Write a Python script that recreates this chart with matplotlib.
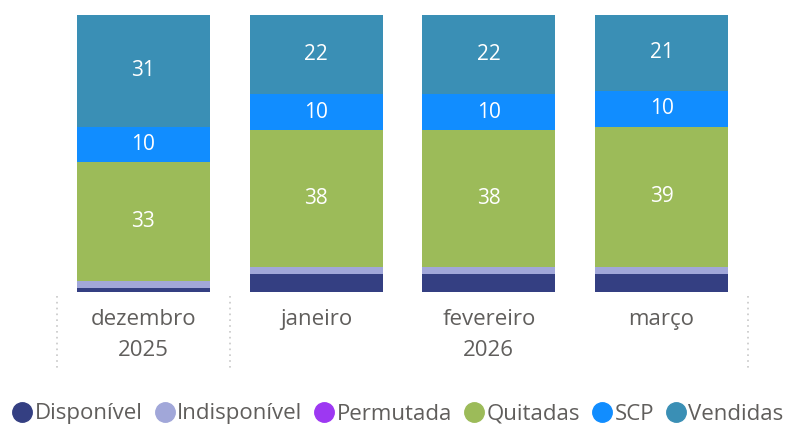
import matplotlib.pyplot as plt
import matplotlib.transforms as mtransforms
from matplotlib.lines import Line2D
import numpy as np

plt.rcParams['font.family'] = ['Open Sans', 'DejaVu Sans']

# data
months = ["dezembro", "janeiro", "fevereiro", "março"]
years = ["2025", "2026"]
year_span = [(0, 0), (1, 3)]
series = ["Disponível", "Indisponível", "Permutada", "Quitadas", "SCP", "Vendidas"]
disponivel = [1, 5, 5, 5]
indisponivel = [2, 2, 2, 2]
permutada = [0, 0, 0, 0]
quitadas = [33, 38, 38, 39]
scp = [10, 10, 10, 10]
vendidas = [31, 22, 22, 21]

colors = ["#343F82", "#A1A7D9", "#9D38F2", "#9CBB59", "#118DFF", "#3A8FB5"]
label_series = {"Quitadas", "SCP", "Vendidas"}

values = [disponivel, indisponivel, permutada, quitadas, scp, vendidas]

fig = plt.figure(figsize=(7.95, 4.25), dpi=100)
ax = fig.add_axes([57 / 795, 1 - 292 / 425, 691 / 795, 277 / 425])

x = np.arange(len(months))
bottom = np.zeros(len(months))
for name, vals, col in zip(series, values, colors):
    vals = np.array(vals, dtype=float)
    ax.bar(x, vals, width=0.77, bottom=bottom, color=col, label=name)
    if name in label_series:
        for xi, b, v in zip(x, bottom, vals):
            ax.text(xi, b + v / 2, f"{int(v)}", ha="center", va="center",
                    color="white", fontsize=15)
    bottom += vals

ax.set_xlim(-0.5, len(months) - 0.5)
ax.set_ylim(0, bottom.max())
ax.set_yticks([])
ax.set_xticks(x)
ax.set_xticklabels(months, fontsize=16, color="#605E5C")
ax.tick_params(axis="x", length=0, pad=12)
for s in ax.spines.values():
    s.set_visible(False)

# year labels and group separators
trans = mtransforms.blended_transform_factory(ax.transData, ax.transAxes)
for yr, (a, b) in zip(years, year_span):
    ax.text((a + b) / 2, -0.21, yr, transform=trans, ha="center", va="center",
            fontsize=16, color="#605E5C")
seps = [-0.5] + [b + 0.5 for a, b in year_span]
for sx in seps:
    ax.plot([sx, sx], [-0.015, -0.28], transform=trans, clip_on=False,
            color="#C8C8C8", linestyle=(0, (1, 2.5)), linewidth=1.2)

handles = [Line2D([0], [0], marker="o", linestyle="", markersize=14,
                  markerfacecolor=c, markeredgecolor=c) for c in colors]
fig.legend(handles, series, loc="center", bbox_to_anchor=(0.5, 11 / 425),
           ncol=6, frameon=False, fontsize=16, handletextpad=0.05,
           columnspacing=0.5, handlelength=1.0, labelcolor="#605E5C",
           borderaxespad=0, borderpad=0)

fig.savefig("out.png", dpi=100)
